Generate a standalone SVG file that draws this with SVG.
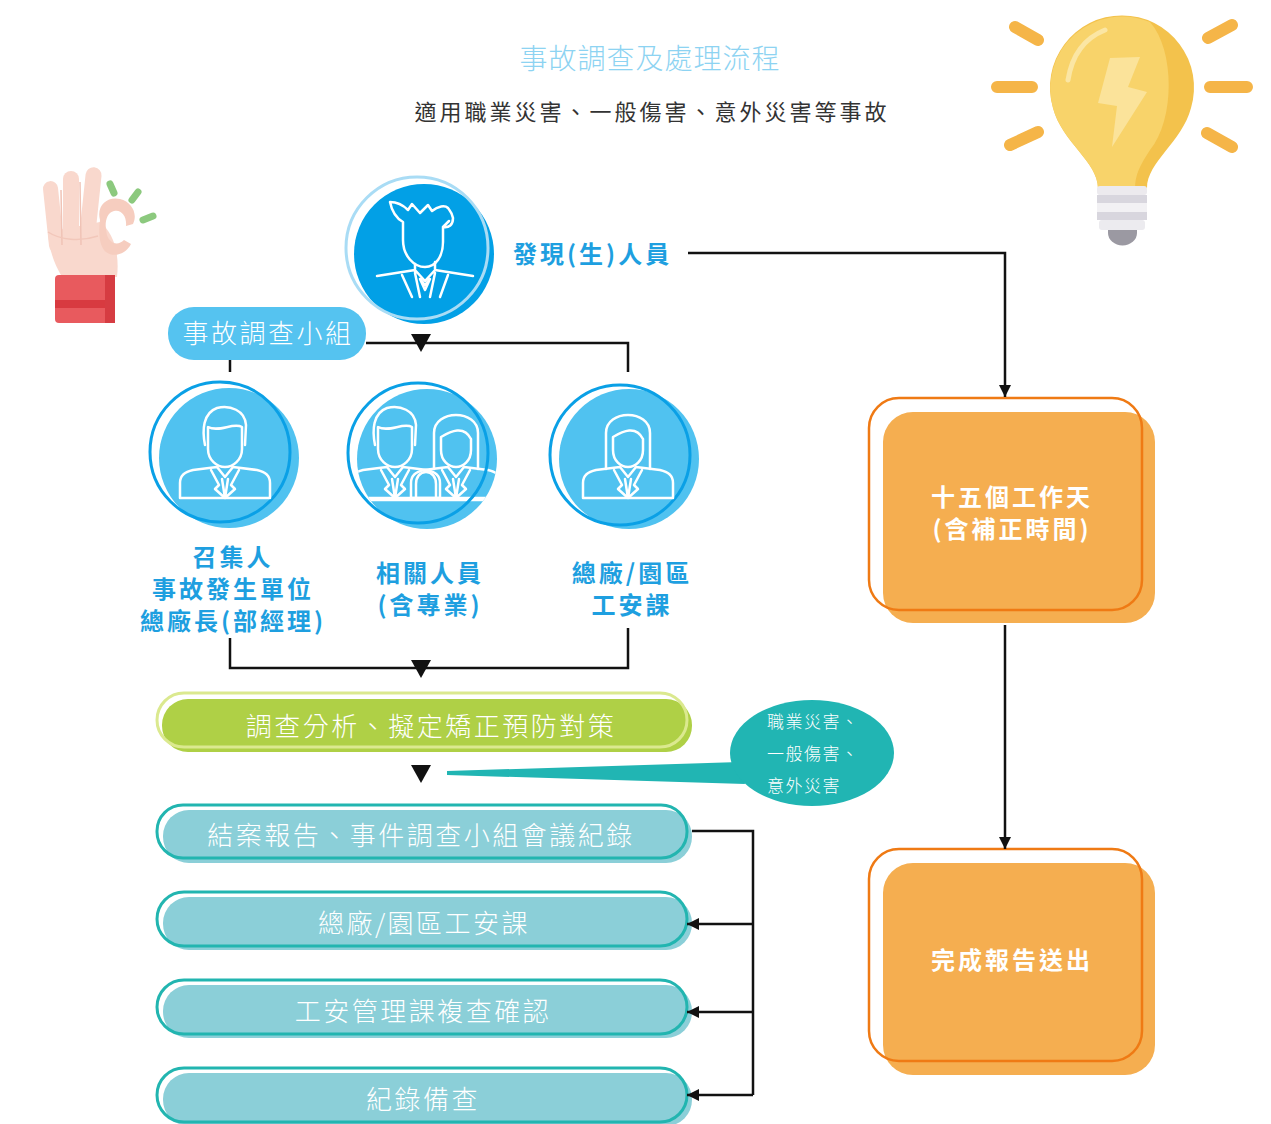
<svg xmlns="http://www.w3.org/2000/svg" width="1271" height="1124" viewBox="0 0 1271 1124">
  <style>
    .cjk { font-family: "Noto Sans CJK TC", "Noto Sans CJK SC", sans-serif; }
    .title { font-size: 28px; font-weight: 300; fill: #8dd3f2; letter-spacing: 1px; }
    .sub { font-size: 22px; font-weight: 400; fill: #333333; letter-spacing: 3px; }
    .lbl { font-size: 24px; font-weight: 700; fill: #1e9fe0; letter-spacing: 3px; }
    .bar { font-size: 26px; font-weight: 300; fill: #ffffff; letter-spacing: 2.5px; }
    .bub { font-size: 17px; font-weight: 300; fill: #ffffff; letter-spacing: 1.5px; }
    .org { font-size: 24px; font-weight: 700; fill: #ffffff; letter-spacing: 3px; }
    .line { fill: none; stroke: #111111; stroke-width: 2.5; }
    .icon { fill: none; stroke: #ffffff; stroke-width: 2.5; stroke-linejoin: round; stroke-linecap: round; }
    .ring { fill: none; stroke: #0aa0e6; stroke-width: 3; }
    .disc { fill: #50c2f0; }
    .tealFill { fill: #8bcfd8; }
    .tealEdge { fill: none; stroke: #22b5b0; stroke-width: 3; }
    .orgFill { fill: #f5ae50; }
    .orgEdge { fill: none; stroke: #ef7a14; stroke-width: 2.5; }
    .tri { fill: #111111; }
    .skin { fill: #f9d8cd; }
  </style>
  <defs>
    <marker id="arr" markerUnits="userSpaceOnUse" markerWidth="14" markerHeight="14" refX="12" refY="6" orient="auto">
      <path d="M0,0 L12,6 L0,12 Z" fill="#111111"/>
    </marker>
    <!-- bust of a man in a suit, origin at icon centre -->
    <g id="man">
      <path class="icon" d="M-20,-10 C-23,-25 -22,-42 -8,-47 C5,-50 20,-45 21,-30 L20,-10"/>
      <path class="icon" d="M-17,-28 L-17,-6 C-17,5 -8,12 0,12 C8,12 17,5 17,-6 L17,-28 C8,-33 -6,-22 -17,-28 Z"/>
      <path class="icon" d="M-45,43 L-45,28 C-45,20 -40,17 -32,15 L-8,12 L0,22 L8,12 L32,15 C40,17 45,20 45,28 L45,43 Z"/>
      <path class="icon" d="M-14,15 L-6,30 L-10,34 L0,43 L10,34 L6,30 L14,15 M-3,24 L0,43 L3,24"/>
    </g>
    <!-- bust of a woman with long hair -->
    <g id="woman">
      <path class="icon" d="M-22,14 L-22,-22 C-22,-46 22,-46 22,-22 L22,14"/>
      <path class="icon" d="M-15,-18 C-5,-24 8,-30 15,-16 L15,-5 C15,6 7,12 0,12 C-7,12 -15,6 -15,-5 Z"/>
      <path class="icon" d="M-45,43 L-45,28 C-45,20 -40,17 -32,15 L-8,12 L0,22 L8,12 L32,15 C40,17 45,20 45,28 L45,43 Z"/>
      <path class="icon" d="M-14,15 L-6,30 L-10,34 L0,43 L10,34 L6,30 L14,15 M-3,24 L0,43 L3,24"/>
    </g>
    <clipPath id="clip2"><circle cx="427" cy="459" r="70"/></clipPath>
  </defs>

  <rect width="1271" height="1124" fill="#ffffff"/>

  <!-- headings -->
  <g id="title">
    <text class="cjk title" x="650" y="69" text-anchor="middle">事故調查及處理流程</text>
    <text class="cjk sub" x="652" y="120" text-anchor="middle">適用職業災害、一般傷害、意外災害等事故</text>
  </g>

  <!-- OK-hand decoration -->
  <g id="hand">
    <rect class="skin" x="46" y="181" width="15" height="72" rx="7.5" transform="rotate(-6 53 217)"/>
    <rect class="skin" x="63" y="171" width="16" height="82" rx="8"/>
    <rect class="skin" x="82" y="167" width="16" height="84" rx="8" transform="rotate(6 90 209)"/>
    <path class="skin" d="M48,232 L100,222 C112,232 120,250 117,277 L62,277 C54,263 49,250 48,232 Z"/>
    <path d="M61,190 L62,245 M80,182 L81,245" stroke="#f0c3b6" stroke-width="1.5" fill="none"/>
    <path d="M100,220 C96,205 108,196 120,199 C132,202 138,214 133,224 L126,226 C127,216 121,209 114,211 C106,213 104,224 107,235 C110,244 118,246 124,240 L131,244 C126,254 114,258 106,252 C100,247 98,235 100,220 Z" fill="#f6cdbf"/>
    <path d="M48,232 C60,240 80,242 98,236" fill="none" stroke="#f2c7ba" stroke-width="1.5"/>
    <rect x="55" y="275" width="60" height="48" rx="4" fill="#e85a5e"/>
    <rect x="55" y="300" width="60" height="8" fill="#d83a40"/>
    <rect x="105" y="275" width="10" height="48" fill="#d63c42"/>
    <path d="M110,184 L114,193 M132,200 L138,192 M143,220 L153,216" stroke="#8cc97e" stroke-width="7" stroke-linecap="round" fill="none"/>
  </g>

  <!-- light bulb decoration -->
  <g id="bulb">
    <path d="M1015,27 L1038,40 M997,87 L1032,87 M1010,145 L1038,132 M1208,38 L1232,25 M1210,87 L1247,87 M1207,133 L1232,147" stroke="#f5b548" stroke-width="12" stroke-linecap="round" fill="none"/>
    <path d="M1098,188 C1098,162 1062,142 1053,108 A72,72 0 1 1 1191,108 C1182,142 1147,162 1147,188 Z" fill="#f3c24c"/>
    <path d="M1098,188 C1098,162 1062,142 1053,108 A72,72 0 0 1 1150,22 C1175,50 1175,120 1150,150 C1140,165 1135,175 1135,188 Z" fill="#f8d36a"/>
    <path d="M1068,80 C1072,55 1085,38 1105,30" stroke="#fbe6a4" stroke-width="5" stroke-linecap="round" fill="none"/>
    <path d="M1110,58 L1140,57 L1128,87 L1147,92 L1112,147 L1117,106 L1098,103 Z" fill="#fbe39a"/>
    <rect x="1097" y="186" width="50" height="9" rx="3" fill="#eceaee"/>
    <rect x="1097" y="195" width="50" height="8" fill="#d8d6de"/>
    <rect x="1097" y="203" width="50" height="9" fill="#f2f1f4"/>
    <rect x="1097" y="212" width="50" height="8" fill="#d8d6de"/>
    <rect x="1099" y="220" width="46" height="10" rx="3" fill="#ecebef"/>
    <path d="M1108,230 L1137,230 L1137,233 A14,12 0 0 1 1108,233 Z" fill="#9b99a2"/>
  </g>

  <!-- discoverer -->
  <g id="finder">
    <circle cx="424" cy="254" r="70" fill="#02a0e6"/>
    <circle cx="417" cy="248" r="71" fill="none" stroke="#a9dcf5" stroke-width="3"/>
    <path class="icon" d="M390,202 C392,212 396,218 403,222 L403,240 C403,256 414,267 425,267 C436,267 443,256 443,242 L443,227 C449,228 453,225 453,218 C452,212 449,210 448,208 C445,205 438,206 432,211 L428,205 L420,213 L412,204 L408,210 C403,205 396,202 390,202 Z M443,227 L449,221"/>
    <path class="icon" d="M415,264 L415,272 M435,262 L435,270 M377,276 L415,270 L425,281 L435,270 L473,276 M402,275 L412,297 M448,275 L440,297 M415,273 L420,297 M435,273 L430,297 M420,279 L425,285 L430,279 L425,290 Z"/>
    <text class="cjk lbl" x="513" y="263">發現(生)人員</text>
  </g>

  <!-- investigation team -->
  <g id="team">
    <rect x="168" y="307" width="198" height="53" rx="26" fill="#55c3f0"/>
    <text class="cjk bar" x="268" y="343" text-anchor="middle">事故調查小組</text>
  </g>

  <!-- convener -->
  <g id="convener">
    <circle class="disc" cx="229" cy="458" r="70"/>
    <circle class="ring" cx="220" cy="452" r="70"/>
    <use href="#man" x="225" y="455"/>
    <text class="cjk lbl" x="233" y="566" text-anchor="middle">召集人</text>
    <text class="cjk lbl" x="233" y="598" text-anchor="middle">事故發生單位</text>
    <text class="cjk lbl" x="233" y="630" text-anchor="middle">總廠長(部經理)</text>
  </g>

  <!-- related staff -->
  <g id="related">
    <circle class="disc" cx="427" cy="459" r="70"/>
    <g clip-path="url(#clip2)">
      <use href="#man" x="395" y="455"/>
      <use href="#woman" x="456" y="455"/>
      <path class="icon" d="M416,500 L416,484 C416,477 420,472 426,472 C432,472 436,477 436,484 L436,500 M360,500 L490,500"/>
    </g>
    <circle class="ring" cx="418" cy="453" r="70"/>
    <text class="cjk lbl" x="430" y="582" text-anchor="middle">相關人員</text>
    <text class="cjk lbl" x="430" y="614" text-anchor="middle">(含專業)</text>
  </g>

  <!-- safety section -->
  <g id="safety">
    <circle class="disc" cx="629" cy="459" r="70"/>
    <circle class="ring" cx="620" cy="455" r="70"/>
    <use href="#woman" x="628" y="455"/>
    <text class="cjk lbl" x="632" y="582" text-anchor="middle">總廠/園區</text>
    <text class="cjk lbl" x="632" y="614" text-anchor="middle">工安課</text>
  </g>

  <!-- analysis step -->
  <g id="analysis">
    <rect x="162" y="699" width="530" height="53" rx="26" fill="#afd046"/>
    <rect x="157" y="693" width="530" height="54" rx="27" fill="none" stroke="#dbe98f" stroke-width="3"/>
    <text class="cjk bar" x="431" y="736" text-anchor="middle">調查分析、擬定矯正預防對策</text>
  </g>

  <!-- scope callout -->
  <g id="scope">
    <path d="M447,771 L740,762 L745,784 L447,775 Z" fill="#21b5b3"/>
    <ellipse cx="812" cy="753" rx="82" ry="53" fill="#21b5b3"/>
    <text class="cjk bub" x="767" y="728">職業災害、</text>
    <text class="cjk bub" x="767" y="760">一般傷害、</text>
    <text class="cjk bub" x="767" y="792">意外災害</text>
  </g>

  <!-- record steps -->
  <g id="report">
    <rect class="tealFill" x="163" y="810" width="529" height="53" rx="26"/>
    <rect class="tealEdge" x="157" y="805" width="530" height="53" rx="26"/>
    <text class="cjk bar" x="421" y="845" text-anchor="middle">結案報告、事件調查小組會議紀錄</text>
  </g>
  <g id="plant">
    <rect class="tealFill" x="163" y="897" width="529" height="53" rx="26"/>
    <rect class="tealEdge" x="157" y="892" width="530" height="54" rx="27"/>
    <text class="cjk bar" x="424" y="933" text-anchor="middle">總廠/園區工安課</text>
  </g>
  <g id="review">
    <rect class="tealFill" x="163" y="985" width="529" height="53" rx="26"/>
    <rect class="tealEdge" x="157" y="980" width="530" height="54" rx="27"/>
    <text class="cjk bar" x="423" y="1021" text-anchor="middle">工安管理課複查確認</text>
  </g>
  <g id="archive">
    <rect class="tealFill" x="163" y="1073" width="529" height="53" rx="26"/>
    <rect class="tealEdge" x="157" y="1068" width="530" height="54" rx="27"/>
    <text class="cjk bar" x="423" y="1109" text-anchor="middle">紀錄備查</text>
  </g>

  <!-- deadline -->
  <g id="deadline">
    <rect class="orgFill" x="883" y="412" width="272" height="211" rx="30"/>
    <rect class="orgEdge" x="869" y="398" width="273" height="212" rx="30"/>
    <text class="cjk org" x="1012" y="506" text-anchor="middle">十五個工作天</text>
    <text class="cjk org" x="1012" y="538" text-anchor="middle">(含補正時間)</text>
  </g>

  <!-- submission -->
  <g id="submit">
    <rect class="orgFill" x="883" y="863" width="272" height="212" rx="30"/>
    <rect class="orgEdge" x="869" y="849" width="273" height="212" rx="30"/>
    <text class="cjk org" x="1012" y="969" text-anchor="middle">完成報告送出</text>
  </g>

  <!-- connectors -->
  <g id="connectors">
    <path class="line" d="M688,253 H1005 V397" marker-end="url(#arr)"/>
    <path class="line" d="M366,343 H628 V372"/>
    <path class="line" d="M230,360 V372"/>
    <polygon class="tri" points="411,334 431,334 421,352"/>
    <path class="line" d="M230,638 V668 H628 V628"/>
    <polygon class="tri" points="411,660 431,660 421,678"/>
    <polygon class="tri" points="411,765 431,765 421,783"/>
    <path class="line" d="M1005,625 V849" marker-end="url(#arr)"/>
    <path class="line" d="M692,831 H753 V1095"/>
    <path class="line" d="M753,924 H687" marker-end="url(#arr)"/>
    <path class="line" d="M753,1012 H687" marker-end="url(#arr)"/>
    <path class="line" d="M753,1095 H687" marker-end="url(#arr)"/>
  </g>
</svg>
